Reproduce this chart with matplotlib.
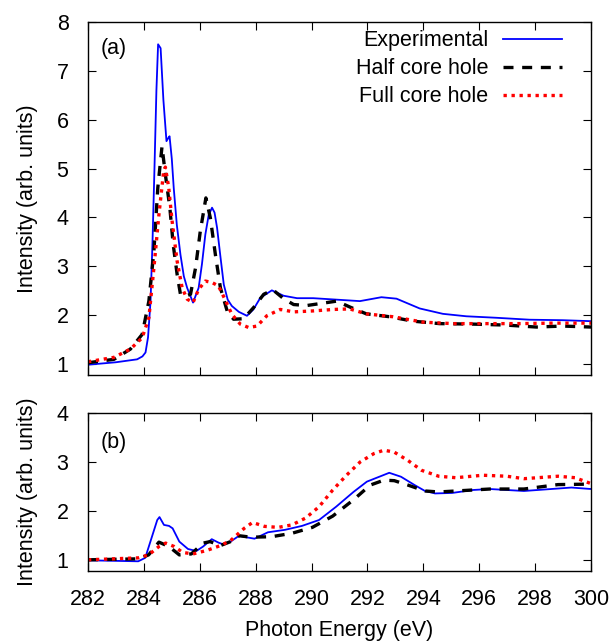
import matplotlib
matplotlib.use("Agg")
import matplotlib.pyplot as plt

plt.rcParams['font.family'] = ['Liberation Sans', 'DejaVu Sans']

# ---------------- Panel (a) data ----------------
exp_a_E = [282.0, 283.0, 283.76, 283.95, 284.06, 284.15, 284.24, 284.31, 284.38, 284.45,
           284.51, 284.6, 284.7, 284.81, 284.87, 284.92, 285.0,
           285.07, 285.18, 285.31, 285.43, 285.55, 285.76, 285.96, 286.08, 286.2, 286.32, 286.44,
           286.53, 286.62, 286.74, 286.86, 287.0, 287.15,
           287.4, 287.69, 287.92, 288.17, 288.58, 289.0, 289.48, 290.06, 290.9, 291.73, 292.5, 293.04,
           293.87, 294.7, 295.54, 296.6, 297.8, 298.99, 300.0]
exp_a_I = [0.99, 1.04, 1.10, 1.16, 1.24, 1.55, 2.29, 3.5, 5.0, 6.6,
           7.54, 7.46, 6.4, 5.56, 5.62, 5.66, 5.2,
           4.6, 3.85, 3.24, 2.8, 2.56, 2.26, 2.56, 3.05, 3.65, 4.05, 4.2,
           4.1, 3.79, 3.2, 2.63, 2.32, 2.19,
           2.07, 1.99, 2.12, 2.36, 2.51, 2.40, 2.35, 2.35, 2.32, 2.29, 2.37, 2.34,
           2.14, 2.03, 1.98, 1.95, 1.91, 1.90, 1.88]

half_a_E = [282.0, 282.93, 283.52, 283.94, 284.18, 284.36, 284.5, 284.65, 284.77, 284.93,
            285.05, 285.19, 285.31, 285.49, 285.67, 285.85, 286.02, 286.22, 286.38, 286.56,
            286.74, 286.98, 287.21, 287.57, 287.93, 288.29, 288.62, 289.0, 289.36, 289.83,
            290.43, 290.9, 291.37, 291.96, 292.8, 293.63, 294.58, 295.77, 296.96, 298.04,
            298.99, 300.0]
half_a_I = [1.03, 1.10, 1.31, 1.61, 2.29, 3.31, 4.61, 5.45, 4.88, 4.2,
            3.45, 2.84, 2.43, 2.39, 2.43, 2.97, 3.72, 4.40, 3.99, 3.24,
            2.56, 2.09, 1.92, 1.93, 2.16, 2.43, 2.52, 2.34, 2.22, 2.20,
            2.25, 2.29, 2.17, 2.03, 1.97, 1.88, 1.83, 1.82, 1.80, 1.76,
            1.78, 1.76]

full_a_E = [282.0, 282.93, 283.52, 283.94, 284.18, 284.36, 284.54, 284.71, 284.77, 284.89,
            285.01, 285.19, 285.37, 285.55, 285.76, 285.96, 286.2, 286.44, 286.67, 286.9,
            287.15, 287.45, 287.75, 288.05, 288.4, 288.88, 289.36, 290.07, 290.79, 291.37,
            291.96, 292.92, 293.99, 295.06, 296.25, 297.44, 298.63, 300.0]
full_a_I = [1.05, 1.14, 1.31, 1.54, 1.95, 2.97, 4.06, 4.95, 5.03, 4.61,
            3.93, 3.11, 2.56, 2.33, 2.26, 2.53, 2.70, 2.67, 2.60, 2.33,
            2.02, 1.82, 1.75, 1.78, 1.99, 2.12, 2.07, 2.09, 2.12, 2.13,
            2.03, 1.97, 1.86, 1.83, 1.83, 1.83, 1.84, 1.84]

# ---------------- Panel (b) data ----------------
exp_b_E = [282.0, 283.8, 284.05, 284.29, 284.48, 284.56, 284.72, 284.9, 285.03, 285.27,
           285.58, 285.88, 286.12, 286.43, 286.67, 286.86, 287.1, 287.41, 287.65, 287.96,
           288.44, 289.05, 289.66, 290.27, 290.88, 291.5, 291.98, 292.47, 292.78, 293.2,
           293.69, 294.06, 294.42, 295.03, 295.77, 296.38, 297.6, 298.82, 299.3, 300.0]
exp_b_I = [1.0, 0.98, 1.05, 1.48, 1.82, 1.88, 1.72, 1.70, 1.65, 1.38,
           1.23, 1.19, 1.28, 1.43, 1.36, 1.32, 1.38, 1.50, 1.47, 1.44,
           1.57, 1.62, 1.70, 1.82, 2.09, 2.39, 2.60, 2.71, 2.78, 2.70,
           2.53, 2.41, 2.36, 2.37, 2.43, 2.45, 2.41, 2.46, 2.48, 2.45]

half_b_E = [282.0, 283.8, 284.17, 284.54, 284.9, 285.27, 285.7, 286.12, 286.37, 286.74,
            287.1, 287.41, 287.83, 288.57, 289.3, 290.03, 290.76, 291.5, 292.1, 292.59,
            292.96, 293.45, 294.06, 294.55, 295.16, 296.38, 297.6, 298.82, 300.0]
half_b_I = [1.01, 1.03, 1.11, 1.37, 1.28, 1.11, 1.13, 1.35, 1.38, 1.30,
            1.38, 1.50, 1.47, 1.48, 1.55, 1.67, 1.90, 2.23, 2.53, 2.63,
            2.62, 2.53, 2.41, 2.39, 2.41, 2.45, 2.45, 2.54, 2.55]

full_b_E = [282.0, 283.8, 284.17, 284.54, 284.78, 285.09, 285.39, 285.76, 286.25, 286.74,
            287.1, 287.59, 287.89, 288.32, 288.81, 289.3, 289.79, 290.27, 290.76, 291.25,
            291.74, 292.23, 292.59, 292.96, 293.45, 293.94, 294.55, 295.16, 296.13, 296.99,
            297.6, 298.82, 299.43, 300.0]
full_b_I = [1.01, 1.05, 1.11, 1.28, 1.35, 1.28, 1.16, 1.13, 1.20, 1.30,
            1.40, 1.65, 1.77, 1.69, 1.67, 1.72, 1.86, 2.09, 2.43, 2.73,
            3.0, 3.17, 3.24, 3.20, 3.03, 2.83, 2.71, 2.68, 2.73, 2.71,
            2.66, 2.71, 2.68, 2.56]

labels = ["Experimental", "Half core hole", "Full core hole"]
x_ticks = [282, 284, 286, 288, 290, 292, 294, 296, 298, 300]
a_yticks = [1, 2, 3, 4, 5, 6, 7, 8]
b_yticks = [1, 2, 3, 4]

FS = 15.5
blue_kw = dict(color="#0000ff", lw=1.3)
black_kw = dict(color="black", lw=2.4, dashes=(3.0, 2.6))
red_kw = dict(color="#ff0000", lw=2.4, dashes=(1.0, 1.4))

fig = plt.figure(figsize=(6.15, 6.41), dpi=100)
ax_a = fig.add_axes([0.143, 0.415, 0.818, 0.551])
ax_b = fig.add_axes([0.143, 0.109, 0.818, 0.247])

ax_a.plot(exp_a_E, exp_a_I, label=labels[0], **blue_kw)
ax_a.plot(half_a_E, half_a_I, label=labels[1], **black_kw)
ax_a.plot(full_a_E, full_a_I, label=labels[2], **red_kw)

ax_b.plot(exp_b_E, exp_b_I, **blue_kw)
ax_b.plot(half_b_E, half_b_I, **black_kw)
ax_b.plot(full_b_E, full_b_I, **red_kw)

for ax, yt, ylim in [(ax_a, a_yticks, (0.78, 8.0)), (ax_b, b_yticks, (0.78, 4.0))]:
    ax.set_xlim(282, 300)
    ax.set_ylim(*ylim)
    ax.set_xticks(x_ticks)
    ax.set_yticks(yt)
    ax.tick_params(direction="in", length=6, width=0.8, top=True, right=True,
                   labelsize=FS)
    ax.tick_params(axis="y", pad=14)
    ax.tick_params(axis="x", pad=13)
    ax.set_ylabel("Intensity (arb. units)", fontsize=FS, labelpad=13)
    for s in ax.spines.values():
        s.set_linewidth(1.0)

ax_a.set_xticklabels([])
ax_b.set_xlabel("Photon Energy (eV)", fontsize=FS, labelpad=7)

ax_a.text(0.025, 0.955, "(a)", transform=ax_a.transAxes, fontsize=FS, va="top", ha="left")
ax_b.text(0.025, 0.88, "(b)", transform=ax_b.transAxes, fontsize=FS, va="top", ha="left")

ax_a.legend(loc="upper right", frameon=False, markerfirst=False, fontsize=FS,
            handlelength=2.75, handletextpad=0.7, labelspacing=0.32,
            borderaxespad=0.0, bbox_to_anchor=(0.96, 1.0))

fig.savefig("out.png", dpi=100)
